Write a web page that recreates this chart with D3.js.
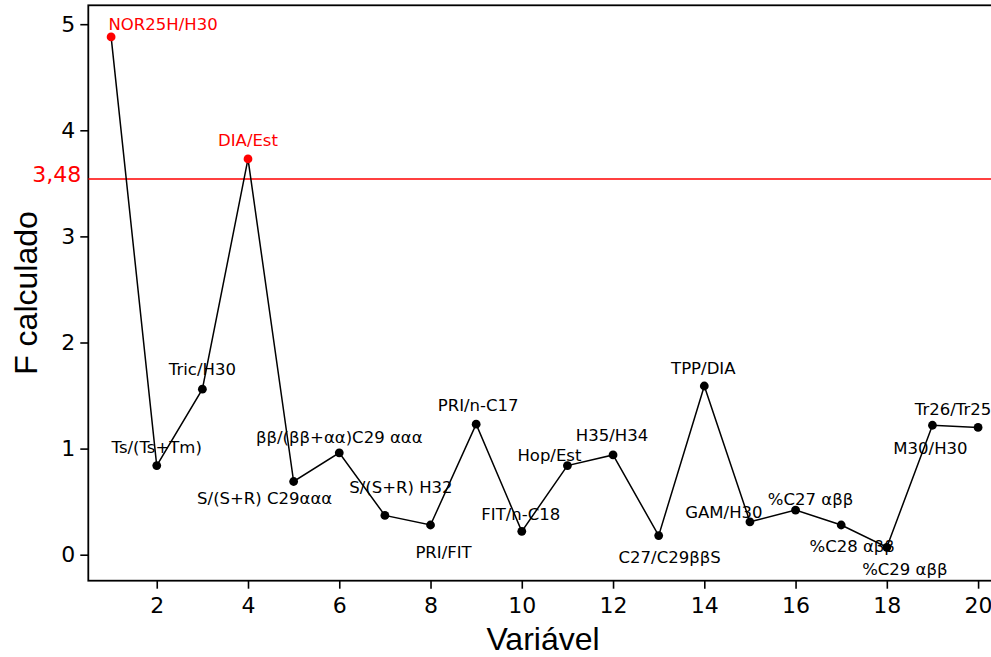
<!DOCTYPE html>
<html lang="pt">
<head>
    <meta charset="UTF-8">
    <title>F calculado</title>
    <script src="https://cdnjs.cloudflare.com/ajax/libs/d3/7.8.5/d3.min.js"></script>
    <style>
        body{ margin: 0; background: #ffffff; }
        svg{ display: block; }
        .tick text{ font-family: "DejaVu Sans", Verdana, sans-serif; fill: #000; }
        .rotulo{ font-family: "DejaVu Sans", Verdana, sans-serif; font-size: 16.5px; }
        .titulo{ font-family: "Liberation Sans", Arial, sans-serif; font-size: 32px; fill: #000; }
    </style>
</head>
<body>
<svg id="main" width="991" height="657"></svg>

<script>
    // dados
    let variavel = [1, 2, 3, 4, 5, 6, 7, 8, 9, 10, 11, 12, 13, 14, 15, 16, 17, 18, 19, 20]
    let fCalculado = [4.88, 0.84, 1.56, 3.73, 0.69, 0.96, 0.37, 0.28, 1.23, 0.22,
                      0.84, 0.94, 0.18, 1.59, 0.31, 0.42, 0.28, 0.07, 1.22, 1.20]
    let nomes = ["NOR25H/H30", "Ts/(Ts+Tm)", "Tric/H30", "DIA/Est", "S/(S+R) C29ααα",
                 "ββ/(ββ+αα)C29 ααα", "S/(S+R) H32", "PRI/FIT", "PRI/n-C17", "FIT/n-C18",
                 "Hop/Est", "H35/H34", "C27/C29ββS", "TPP/DIA", "GAM/H30",
                 "%C27 αββ", "%C28 αββ", "%C29 αββ", "M30/H30", "Tr26/Tr25"]
    let limiteValor = 3.54      // where the red line sits in the picture
    let limiteTexto = "3,48"
    let yTicks = [0, 1, 2, 3, 4, 5]
    let xTicks = [2, 4, 6, 8, 10, 12, 14, 16, 18, 20]

    // label offsets (dx, dy) from each point
    let offsets = [[52, -7], [0, -13], [0, -14], [0, -13], [-29, 23],
                   [0, -10], [16, -22], [13, 33], [2, -13], [-1, -11],
                   [-18, -5], [-1, -14], [11, 27], [-1, -12], [-26, -4],
                   [15, -5], [11, 27], [18, 28], [-2, 29], [-25, -12]]

    let svg = d3.select("#main")
    let mLeft = 88.3, mRight = 1000.9, mTop = 5.3, mBottom = 580.7

    let x = d3.scaleLinear().domain([0.5, 20.5]).range([mLeft, mRight])
    let y = d3.scaleLinear().domain([-0.245, 5.178]).range([mBottom, mTop])

    // eixo y
    let gy = svg.append("g")
        .attr("transform", `translate(${mLeft},0)`)
        .call(d3.axisLeft(y).tickValues(yTicks).tickSize(8).tickPadding(5).tickFormat(d3.format("d")))
    gy.select(".domain").remove()
    gy.selectAll(".tick line").attr("stroke", "#000").attr("stroke-width", 1.6)
    gy.selectAll(".tick text").attr("font-size", 22)

    // eixo x
    let gx = svg.append("g")
        .attr("transform", `translate(0,${mBottom})`)
        .call(d3.axisBottom(x).tickValues(xTicks).tickSize(8).tickPadding(6).tickFormat(d3.format("d")))
    gx.select(".domain").remove()
    gx.selectAll(".tick line").attr("stroke", "#000").attr("stroke-width", 1.6)
    gx.selectAll(".tick text")
        .attr("font-size", 22)
        .attr("y", 32)
        .attr("dy", 0)

    // moldura
    svg.append("rect")
        .attr("x", mLeft).attr("y", mTop)
        .attr("width", mRight - mLeft).attr("height", mBottom - mTop)
        .attr("fill", "none").attr("stroke", "#000").attr("stroke-width", 1.8)

    // linha do F tabelado
    svg.append("line")
        .attr("x1", mLeft).attr("x2", mRight)
        .attr("y1", y(limiteValor)).attr("y2", y(limiteValor))
        .attr("stroke", "#ff0000").attr("stroke-width", 1.5)
    svg.append("text")
        .attr("x", mLeft - 7)
        .attr("y", y(limiteValor) + 3)
        .attr("text-anchor", "end")
        .attr("font-family", "DejaVu Sans, Verdana, sans-serif")
        .attr("font-size", 22)
        .attr("fill", "#ff0000")
        .text(limiteTexto)

    let pontos = variavel.map((v, i) => ({x: v, f: fCalculado[i], nome: nomes[i], off: offsets[i]}))

    let cor = d => d.f > 3.48 ? "#ff0000" : "#000000"

    // linha
    svg.append("path")
        .datum(pontos)
        .attr("fill", "none")
        .attr("stroke", "#000")
        .attr("stroke-width", 1.5)
        .attr("d", d3.line().x(d => x(d.x)).y(d => y(d.f)))

    svg.selectAll("circle.pt")
        .data(pontos)
        .join("circle")
        .attr("class", "pt")
        .attr("cx", d => x(d.x))
        .attr("cy", d => y(d.f))
        .attr("r", 4.4)
        .attr("fill", cor)

    svg.selectAll("text.rotulo")
        .data(pontos)
        .join("text")
        .attr("class", "rotulo")
        .attr("x", d => x(d.x) + d.off[0])
        .attr("y", d => y(d.f) + d.off[1])
        .attr("text-anchor", "middle")
        .attr("fill", cor)
        .text(d => d.nome)

    // titulos
    svg.append("text")
        .attr("class", "titulo")
        .attr("x", 543)
        .attr("y", 650)
        .attr("text-anchor", "middle")
        .text("Variável")
    svg.append("text")
        .attr("class", "titulo")
        .attr("transform", "translate(37,293) rotate(-90)")
        .attr("text-anchor", "middle")
        .text("F calculado")
</script>
</body>
</html>
